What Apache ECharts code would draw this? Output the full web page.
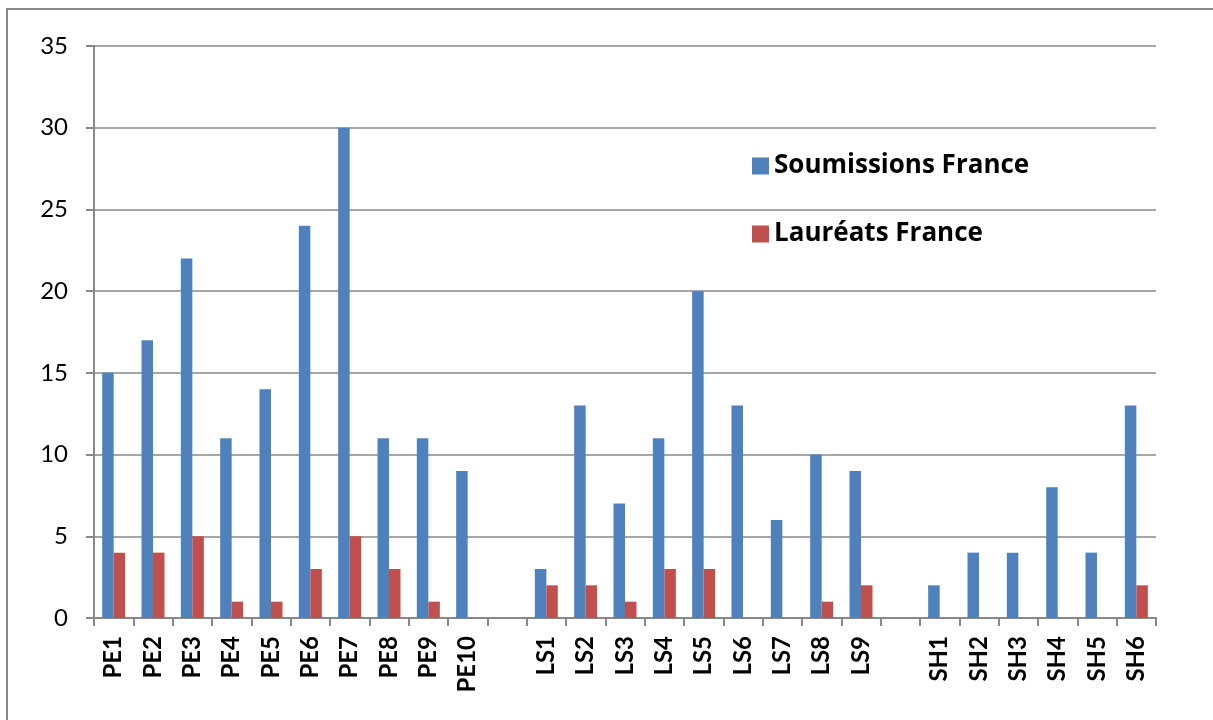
<!DOCTYPE html>
<html><head><meta charset="utf-8">
<script src="https://cdn.jsdelivr.net/npm/echarts@6/dist/echarts.min.js"></script>
<style>html,body{margin:0;padding:0;background:#fff}#c{width:1213px;height:720px}</style>
</head><body><div id="c"></div>
<script>
const categories = ['PE1','PE2','PE3','PE4','PE5','PE6','PE7','PE8','PE9','PE10','',
  'LS1','LS2','LS3','LS4','LS5','LS6','LS7','LS8','LS9','',
  'SH1','SH2','SH3','SH4','SH5','SH6'];
const soumissions = [15,17,22,11,14,24,30,11,11,9,null,
  3,13,7,11,20,13,6,10,9,null,
  2,4,4,8,4,13];
const laureats = [4,4,5,1,1,3,5,3,1,0,null,
  2,2,1,3,3,0,0,1,2,null,
  0,0,0,0,0,2];
const yTicks = {min:0,max:35,interval:5};

const chart = echarts.init(document.getElementById('c'));
chart.setOption({
  animation:false,
  graphic:[{type:'rect',shape:{x:7,y:9,width:1240,height:760},style:{fill:null,stroke:'#888',lineWidth:2},silent:true}],
  grid:{left:94,right:57,top:46,bottom:102},
  legend:{
    orient:'vertical',left:747,top:148,itemWidth:17,itemHeight:17,itemGap:42,
    icon:'rect',
    textStyle:{fontFamily:'Open Sans',fontWeight:'bold',fontSize:26,color:'#000',padding:[0,0,0,0]},
    data:['Soumissions France','Lauréats France']
  },
  xAxis:{
    type:'category',data:categories,
    axisLine:{lineStyle:{color:'#888',width:2}},
    axisTick:{show:true,length:8,alignWithLabel:false,interval:0,lineStyle:{color:'#888',width:2}},
    axisLabel:{interval:0,rotate:90,margin:18,fontFamily:'Lato',fontWeight:'bold',fontSize:24,color:'#000'}
  },
  yAxis:{
    type:'value',min:yTicks.min,max:yTicks.max,interval:yTicks.interval,
    axisLine:{show:true,lineStyle:{color:'#888',width:2}},
    axisTick:{show:true,length:8,lineStyle:{color:'#888',width:2}},
    splitLine:{lineStyle:{color:'#888',width:1.5}},
    axisLabel:{margin:26,fontFamily:'Lato',fontSize:24,color:'#000'}
  },
  series:[
    {name:'Soumissions France',type:'bar',data:soumissions,barWidth:11.5,barGap:'0%',itemStyle:{color:'#4F81BD'}},
    {name:'Lauréats France',type:'bar',data:laureats,barWidth:11.5,barGap:'0%',itemStyle:{color:'#C0504D'}}
  ]
});
</script></body></html>
